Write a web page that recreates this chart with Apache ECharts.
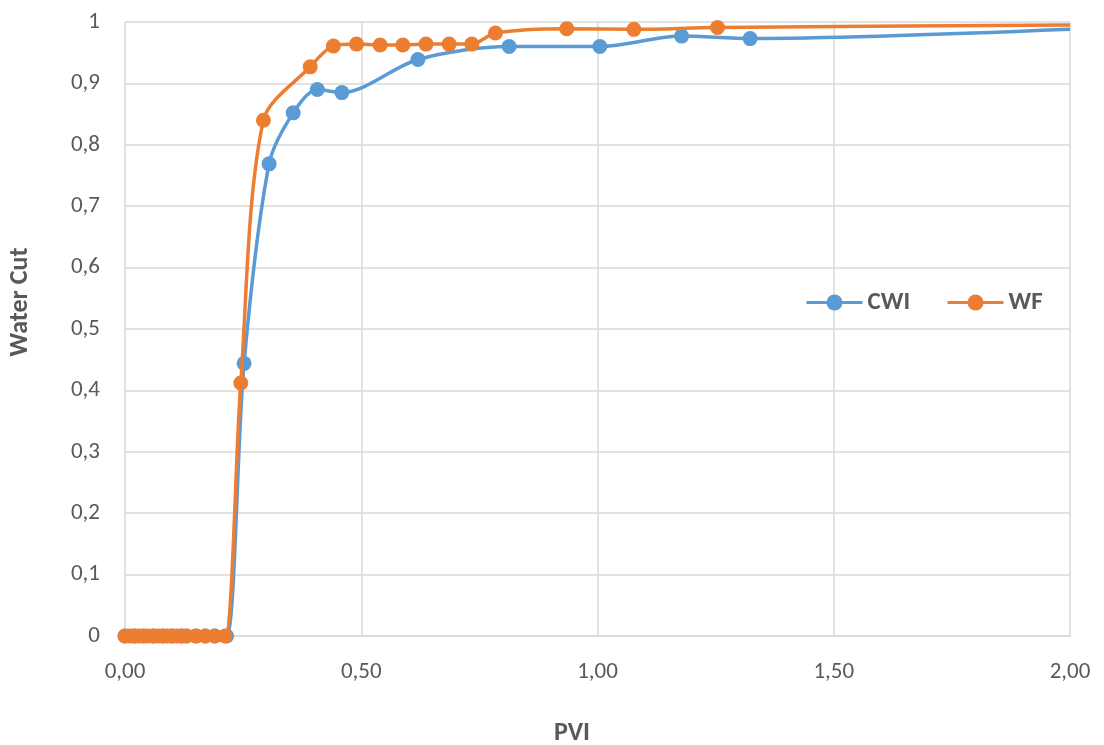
<!DOCTYPE html>
<html>
<head>
<meta charset="utf-8">
<script src="https://cdn.jsdelivr.net/npm/echarts@6/dist/echarts.min.js"></script>
<style>
  html, body { margin: 0; padding: 0; background: #fff; }
  #chart { width: 1104px; height: 745px; }
</style>
</head>
<body>
<div id="chart"></div>
<script>
// Water cut vs pore volumes injected for two injection schemes
const cwiPvi = [0, 0.02, 0.04, 0.06, 0.08, 0.10, 0.12, 0.13, 0.15, 0.17, 0.19, 0.215,
  0.252, 0.305, 0.356, 0.407, 0.459, 0.620, 0.813, 1.005, 1.178, 1.323, 2.00];
const cwiWc = [0, 0, 0, 0, 0, 0, 0, 0, 0, 0, 0, 0,
  0.444, 0.769, 0.852, 0.890, 0.885, 0.939, 0.960, 0.960, 0.977, 0.973, 0.988];

const wfPvi = [0, 0.01, 0.02, 0.03, 0.04, 0.05, 0.06, 0.07, 0.08, 0.09, 0.10, 0.11, 0.12,
  0.13, 0.15, 0.17, 0.19, 0.212, 0.245, 0.293, 0.392, 0.441, 0.490, 0.540, 0.588,
  0.637, 0.686, 0.734, 0.784, 0.935, 1.077, 1.254, 2.00];
const wfWc = [0, 0, 0, 0, 0, 0, 0, 0, 0, 0, 0, 0, 0,
  0, 0, 0, 0, 0, 0.412, 0.840, 0.927, 0.961, 0.964, 0.9625, 0.9625,
  0.964, 0.964, 0.964, 0.982, 0.989, 0.988, 0.991, 0.995];

const seriesNames = ['CWI', 'WF'];
const seriesColors = ['#5B9BD5', '#ED7D31'];
const xTitle = 'PVI';
const yTitle = 'Water Cut';

function toPoints(xs, ys) {
  return xs.map((x, i) => {
    const item = { value: [x, ys[i]] };
    // the trailing point only carries the line to the axis end
    if (i === xs.length - 1) item.symbol = 'none';
    return item;
  });
}

const textColor = '#595959';
const gridColor = '#d9d9d9';
const font = 'Carlito, Open Sans, Liberation Sans, sans-serif';

function lineSeries(idx, xs, ys, z) {
  return {
    name: seriesNames[idx],
    type: 'line',
    data: toPoints(xs, ys),
    smooth: 0.3,
    symbol: 'circle',
    symbolSize: 15,
    color: seriesColors[idx],
    lineStyle: { width: 3.5, color: seriesColors[idx] },
    itemStyle: { color: seriesColors[idx] },
    z: z
  };
}

const titleStyle = { fill: textColor, fontSize: 26, fontWeight: 'bold', fontFamily: font,
  align: 'center', verticalAlign: 'middle' };

const chart = echarts.init(document.getElementById('chart'), null, { renderer: 'canvas' });
chart.setOption({
  animation: false,
  backgroundColor: '#ffffff',
  grid: { left: 125, right: 34, top: 22, bottom: 109, containLabel: false },
  legend: {
    data: seriesNames,
    left: 800,
    top: 285,
    itemWidth: 56,
    itemHeight: 20,
    itemGap: 36,
    lineStyle: { width: 3 },
    textStyle: { color: textColor, fontSize: 25, fontWeight: 'bold', fontFamily: font }
  },
  graphic: [
    {
      type: 'text', x: 572, y: 733, z: 10,
      style: Object.assign({ text: xTitle }, titleStyle)
    },
    {
      type: 'text', x: 20, y: 302, rotation: Math.PI / 2, z: 10,
      style: Object.assign({ text: yTitle }, titleStyle)
    }
  ],
  xAxis: {
    type: 'value',
    min: 0, max: 2, interval: 0.5,
    axisLine: { show: true, lineStyle: { color: gridColor, width: 1.5 } },
    axisTick: { show: false },
    axisLabel: {
      color: textColor, fontSize: 23, fontFamily: font, margin: 25,
      formatter: v => v.toFixed(2).replace('.', ',')
    },
    splitLine: { show: true, lineStyle: { color: gridColor, width: 1.5 } }
  },
  yAxis: {
    type: 'value',
    min: 0, max: 1, interval: 0.1,
    axisLine: { show: false },
    axisTick: { show: false },
    axisLabel: {
      color: textColor, fontSize: 23, fontFamily: font, margin: 25,
      formatter: v => {
        const r = Math.round(v * 10) / 10;
        if (r === 0) return '0';
        if (r === 1) return '1';
        return r.toFixed(1).replace('.', ',');
      }
    },
    splitLine: { show: true, lineStyle: { color: gridColor, width: 1.5 } }
  },
  series: [
    lineSeries(0, cwiPvi, cwiWc, 2),
    lineSeries(1, wfPvi, wfWc, 3)
  ]
});
</script>
</body>
</html>
